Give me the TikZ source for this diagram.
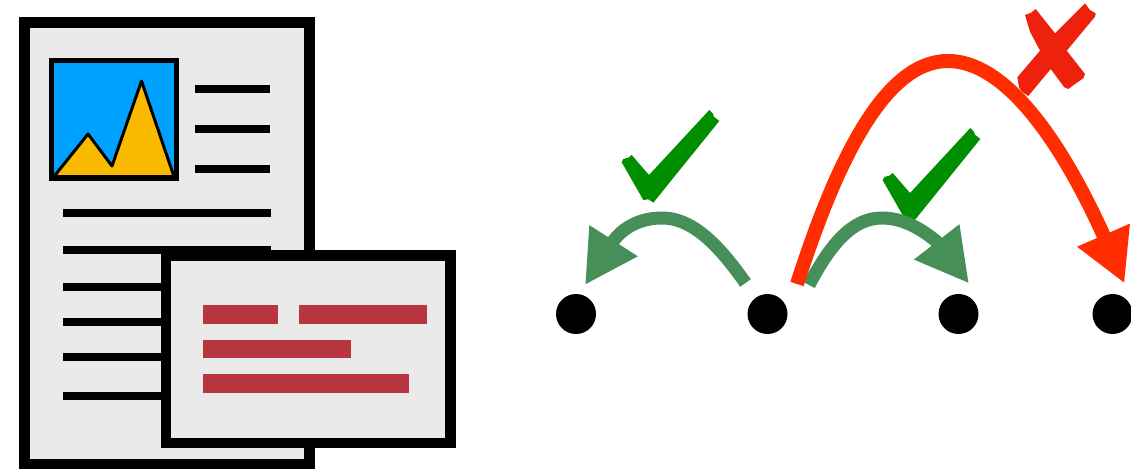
\documentclass[tikz,border=0pt]{standalone}
\usetikzlibrary{arrows.meta}
\definecolor{sheetgray}{HTML}{EAEAEA}
\definecolor{skyblue}{HTML}{00A2FF}
\definecolor{hillyellow}{HTML}{F9BA00}
\definecolor{barred}{HTML}{B83640}
\definecolor{hopgreen}{HTML}{468F58}
\definecolor{hopred}{HTML}{FF2D00}
\definecolor{tickgreen}{HTML}{008F00}
\definecolor{crossred}{HTML}{EE220C}
\tikzset{
  sheet/.style={draw=black,fill=sheetgray,line width=6pt},
  textline/.style={draw=black,line width=4.5pt},
  bar/.style={fill=barred},
  dot/.style={circle,fill=black,inner sep=0pt,minimum size=8mm},
  goodhop/.style={draw=hopgreen,line width=7.4pt,-{Triangle[length=30pt,width=30.5pt]}},
  badhop/.style={draw=hopred,line width=8pt,-{Triangle[length=30pt,width=30.5pt]}}
}
\begin{document}
\begin{tikzpicture}[x=0.02cm,y=-0.02cm]
\useasboundingbox (0,0) rectangle (1131,472);

% Draw page
\draw[sheet] (24.7,22.7) rectangle (309.3,463.8);

% Draw picture on page
\draw[fill=skyblue,line width=2.8pt] (51.5,60.8) rectangle (176.5,178.5);
\draw[fill=hillyellow,line width=1.7pt,line join=round] (54,176.5) -- (88,134) -- (112,166) -- (141.5,81) -- (174,176.5) -- cycle;

% Draw text lines
\draw[textline] (195,89) -- (269.5,89);
\draw[textline] (195,129) -- (269.5,129);
\draw[textline] (195,169) -- (269.5,169);
\draw[textline] (63,213) -- (270.7,213);
\draw[textline] (63,250) -- (270.7,250);
\draw[textline] (63,287) -- (270.7,287);
\draw[textline] (63,322) -- (270.7,322);
\draw[textline] (63,357) -- (270.7,357);
\draw[textline] (63,396) -- (270.7,396);

% Draw card
\draw[sheet] (166,255.3) rectangle (450.7,443);
\fill[bar] (203,305) rectangle (277.5,324);
\fill[bar] (299,305) rectangle (427,324);
\fill[bar] (203,340) rectangle (351,358.5);
\fill[bar] (203,374) rectangle (408.5,393);

% Draw dots
\node[dot] (dotA) at (576,314) {};
\node[dot] (dotB) at (767.5,314) {};
\node[dot] (dotC) at (958.5,314) {};
\node[dot] (dotD) at (1112.5,314) {};

% Draw marks
\fill[tickgreen] (621.7,162.3) -- (623.3,159) -- (628.3,157.7) -- (631.7,155) -- (649,175) -- (709.3,110) -- (712.7,113.3) -- (714,116.7) -- (719.3,121) -- (653.3,202.7) -- (648.3,199.3) -- (643.3,200) -- cycle;
\fill[tickgreen] (882.7,180.3) -- (884.3,177) -- (889.3,175.7) -- (892.7,173) -- (910,193) -- (970.3,128) -- (973.7,131.3) -- (975,134.7) -- (980.3,139) -- (914.3,220.7) -- (909.3,217.3) -- (904.3,218) -- cycle;
\fill[crossred] (1085,3.3) -- (1090,10) -- (1095.7,13.3) -- (1095,16.7) -- (1066.7,50.7) -- (1085,74) -- (1083.3,78.3) -- (1076,83.3) -- (1068.3,89) -- (1064.3,87.3) -- (1050.7,69) -- (1028.3,96) -- (1021.7,91.7) -- (1019,87.3) -- (1017.3,77.3) -- (1040,50.7) -- (1030,31.7) -- (1025,15) -- (1031,12.7) -- (1035.7,9) -- (1055,33.3) -- cycle;

% Free ends of the hops
\coordinate (backstart) at (745.5,283);
\coordinate (backend) at (585,285);
\coordinate (nearstart) at (809,285);
\coordinate (nearend) at (969,283.5);
\coordinate (farstart) at (797,284);
\coordinate (farend) at (1124.5,283.5);

% Draw hops
\draw[goodhop] (backstart) .. controls (722,250) and (695,218) .. (662,218) .. controls (642,218) and (625,226) .. (614,240) -- (backend);
\draw[goodhop] (nearstart) .. controls (830,245) and (852,218) .. (882,218) .. controls (902,218) and (920,228) .. (936,241) -- (nearend);
\draw[badhop] (farstart) .. controls (840,150) and (888,61) .. (948,61) .. controls (1005,61) and (1060,140) .. (1102.5,233) -- (farend);
\end{tikzpicture}
\end{document}
